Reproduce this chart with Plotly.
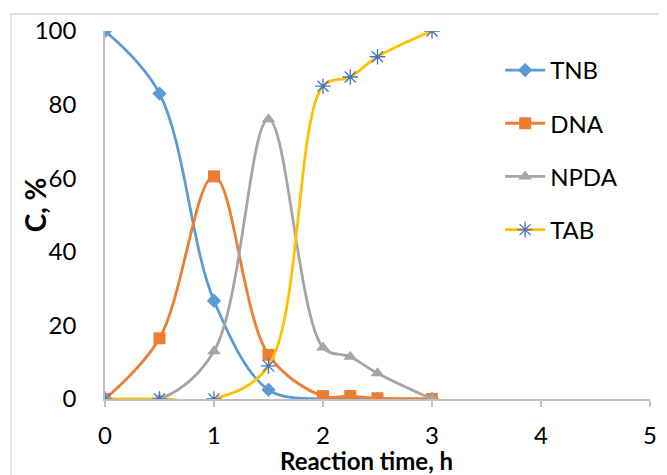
import plotly.graph_objects as go

time_h = [0, 0.5, 1, 1.5, 2, 2.25, 2.5, 3]
tnb = [100, 83, 26.7, 2.5, 0, 0, 0, 0]
dna = [0, 16.5, 60.5, 12, 0.8, 0.8, 0.2, 0]
npda = [0, 0, 13, 76, 14, 11.5, 7, 0]
tab = [0, 0, 0, 9, 85, 87.5, 93, 100]

x_ticks = [0, 1, 2, 3, 4, 5]
y_ticks = [0, 20, 40, 60, 80, 100]

FONT = "Lato, Open Sans, sans-serif"

fig = go.Figure()
series = [
    ("TNB", tnb, "#5B9BD5", dict(symbol="diamond", size=11, color="#5B9BD5")),
    ("DNA", dna, "#ED7D31", dict(symbol="square", size=12, color="#ED7D31")),
    ("NPDA", npda, "#A5A5A5", dict(symbol="triangle-up", size=12, color="#A5A5A5")),
    ("TAB", tab, "#FFC000", dict(symbol="asterisk-open", size=13, color="#4472C4",
                                 line=dict(color="#4472C4", width=1.3))),
]
for name, ys, col, mk in series:
    fig.add_trace(go.Scatter(
        x=time_h, y=ys, name=name, mode="lines+markers",
        line=dict(color=col, width=2.8, shape="spline", smoothing=1.0),
        marker=mk, legendgroup=name,
    ))

# page body has an 8px margin; margins below account for it
fig.update_layout(
    width=667, height=475,
    margin=dict(l=97, r=25, t=23, b=84, autoexpand=False),
    paper_bgcolor="white", plot_bgcolor="white",
    font=dict(family=FONT, size=24, color="black"),
    showlegend=True,
    legend=dict(x=0.725, y=0.954, xanchor="left", yanchor="top",
                font=dict(size=24, family=FONT), tracegroupgap=19,
                bgcolor="rgba(0,0,0,0)", itemwidth=40),
    shapes=[dict(type="rect", xref="paper", yref="paper",
                 x0=-0.1725, x1=1.2, y0=-0.4, y1=1.046,
                 line=dict(color="#D9D9D9", width=1.5), layer="below")],
    annotations=[
        dict(text="<b>Reaction time, h</b>", xref="paper", yref="paper",
             x=0.479, y=-0.1675, xanchor="center", yanchor="middle",
             showarrow=False, font=dict(size=24, family=FONT)),
        dict(text="<b>C, %</b>", xref="paper", yref="paper",
             x=-0.128, y=0.527, xanchor="center", yanchor="middle", textangle=-90,
             showarrow=False, font=dict(size=28, family=FONT)),
    ],
)
fig.update_xaxes(
    range=[0, 5], tickvals=x_ticks, showgrid=False, zeroline=False,
    showline=True, linecolor="#BFBFBF", linewidth=1.5, automargin=False,
    ticks="outside", ticklen=6, tickcolor="#BFBFBF", tickwidth=1.5,
    tickfont=dict(size=24), ticklabelstandoff=8,
)
fig.update_yaxes(
    range=[0, 100], tickvals=y_ticks, showgrid=False, zeroline=False,
    showline=True, linecolor="#BFBFBF", linewidth=1.5, ticks="", automargin=False,
    tickfont=dict(size=24), ticklabelstandoff=22,
)
fig.write_html("out.html")
